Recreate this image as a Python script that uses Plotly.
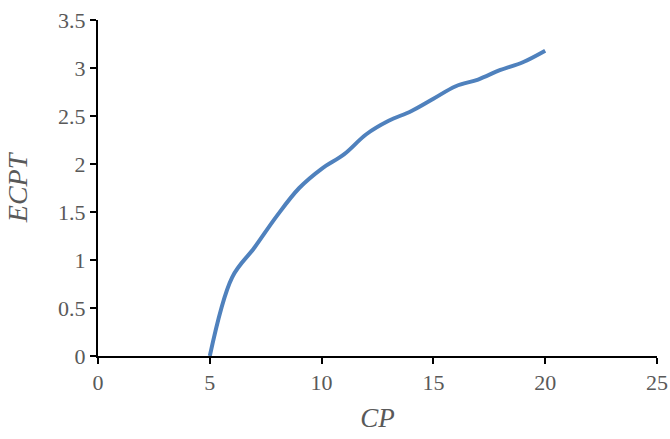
import plotly.graph_objects as go

cp = [5, 6, 7, 8, 9, 10, 11, 12, 13, 14, 15, 16, 17, 18, 19, 20]
ecpt = [0.0, 0.82, 1.13, 1.46, 1.75, 1.95, 2.10, 2.31, 2.45, 2.55, 2.68, 2.81, 2.88, 2.98, 3.06, 3.18]

x_ticks = [0, 5, 10, 15, 20, 25]
y_ticks = [0, 0.5, 1, 1.5, 2, 2.5, 3, 3.5]
y_labels = ["0", "0.5", "1", "1.5", "2", "2.5", "3", "3.5"]

font_family = "Times New Roman, Liberation Serif, serif"
gray = "#595959"

fig = go.Figure()
fig.add_trace(go.Scatter(
    x=cp, y=ecpt, mode="lines",
    line=dict(color="#4F81BD", width=4, shape="spline", smoothing=1.0),
    showlegend=False,
))

fig.update_layout(
    width=670, height=439,
    margin=dict(l=98, r=13, t=20, b=83, autoexpand=False),
    paper_bgcolor="white", plot_bgcolor="white",
    font=dict(family=font_family, color=gray, size=22),
)
fig.update_xaxes(
    range=[0, 25], tickvals=x_ticks, ticktext=[str(v) for v in x_ticks],
    showgrid=False, zeroline=False, automargin=False,
    showline=True, linecolor="black", linewidth=2,
    ticks="outside", tickcolor="black", tickwidth=2, ticklen=6,
    tickfont=dict(family=font_family, size=22, color=gray),
    title=dict(text="<i>CP</i>", font=dict(family=font_family, size=27, color=gray), standoff=14),
)
fig.update_yaxes(
    range=[0, 3.5], tickvals=y_ticks, ticktext=y_labels,
    showgrid=False, zeroline=False, automargin=False,
    showline=True, linecolor="black", linewidth=2,
    ticks="outside", tickcolor="black", tickwidth=2, ticklen=6,
    tickfont=dict(family=font_family, size=22, color=gray),
    title=dict(text="<i>ECPT</i>", font=dict(family=font_family, size=28, color=gray), standoff=22),
)

fig.write_html("out.html")
